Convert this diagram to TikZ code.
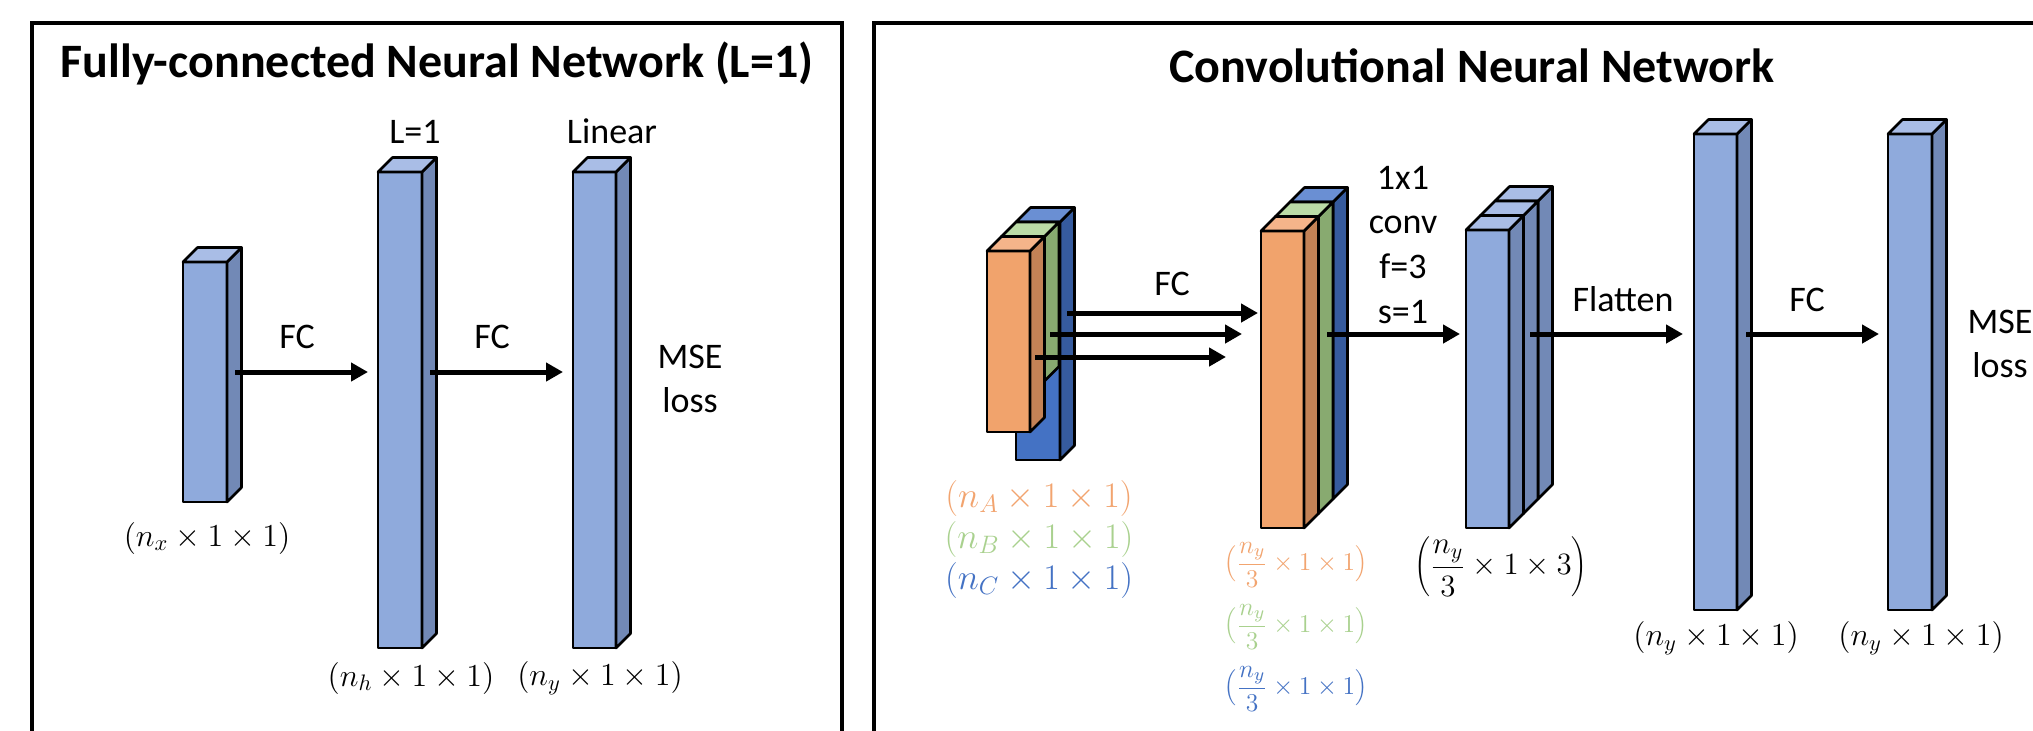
\documentclass[tikz,border=0pt]{standalone}
\usepackage{fix-cm}
\usepackage[no-math]{fontspec}
\setmainfont{Carlito}
\usetikzlibrary{arrows.meta}
\definecolor{lbF}{HTML}{8FAADC}
\definecolor{lbS}{HTML}{7289B6}
\definecolor{lbT}{HTML}{A9BDE6}
\definecolor{orF}{HTML}{F1A36C}
\definecolor{orS}{HTML}{C38256}
\definecolor{orT}{HTML}{F5B48A}
\definecolor{grF}{HTML}{A9D18E}
\definecolor{grS}{HTML}{88AA70}
\definecolor{grT}{HTML}{BBDBA6}
\definecolor{dbF}{HTML}{4472C4}
\definecolor{dbS}{HTML}{365B9E}
\definecolor{dbT}{HTML}{6A8FD3}
\definecolor{orTxt}{HTML}{F2A46F}
\definecolor{grTxt}{HTML}{A9D18E}
\definecolor{dbTxt}{HTML}{4472C4}
\def\dd{14.5}
\newcommand\fraclbl{$\displaystyle\Bigl(\frac{n_y}{3}\times1\times1\Bigr)$}
\tikzset{
  panel/.style={draw=black, line width=1.7pt},
  face/.style={draw=black, line width=1.3pt, line join=round},
  frontface/.style={face, rectangle, inner sep=0pt, outer sep=0pt, anchor=north west},
  arr/.style={line width=2.5pt, -{Triangle[length=8.5pt,width=9pt]}},
  lbl/.style={font=\fontsize{18}{22}\selectfont, anchor=base, inner sep=0pt},
  ttl/.style={font=\fontsize{24}{28}\selectfont\bfseries, anchor=base, inner sep=0pt},
  mlbl/.style={font=\fontsize{16}{19}\selectfont, inner sep=0pt},
  clbl/.style={font=\fontsize{18}{21}\selectfont, inner sep=0pt},
  flbl/.style={font=\fontsize{12.8}{15}\selectfont, inner sep=0pt},
}
% name, x0, top, x1, bottom, front, side, top colours
\newcommand\cub[8]{%
  \node[frontface, fill=#6, minimum width={(#4-#2)*0.5pt}, minimum height={(#5-#3)*0.5pt}] (#1) at (#2,#3) {};
  \filldraw[face, fill=#7] (#4,#3) -- (#4+\dd,#3-\dd) -- (#4+\dd,#5-\dd) -- (#4,#5) -- cycle;
  \filldraw[face, fill=#8] (#2,#3) -- (#2+\dd,#3-\dd) -- (#4+\dd,#3-\dd) -- (#4,#3) -- cycle;
}
\begin{document}
\begin{tikzpicture}[x=0.5pt, y=-0.5pt]
\useasboundingbox (0,0) rectangle (2033,730);
\clip (0,0) rectangle (2033,730);
\fill[white] (0,0) rectangle (2033,730);
% panels
\draw[panel] (32,23) rectangle (842,780);
\draw[panel] (874,23) rectangle (2080,780);
\node[ttl] (t1) at (437,77) {Fully-connected Neural Network (L=1)};
\node[ttl] (t2) at (1472,82) {Convolutional Neural Network};

% ---- left panel ----
\cub{b1}{183}{262}{227}{502}{lbF}{lbS}{lbT}
\cub{b2}{378}{172}{422}{648}{lbF}{lbS}{lbT}
\cub{b3}{573}{172}{616}{648}{lbF}{lbS}{lbT}
\coordinate (a1s) at (235,372); \coordinate (a1e) at (368,372);
\coordinate (a2s) at (430,372); \coordinate (a2e) at (563,372);
\draw[arr] (a1s) -- (a1e);
\draw[arr] (a2s) -- (a2e);
\node[lbl] (l1) at (415,143) {L=1};
\node[lbl] (lin) at (612,143) {Linear};
\node[lbl] (fc1) at (297,348) {FC};
\node[lbl] (fc2) at (492,348) {FC};
\node[lbl] (mse1) at (690,368) {MSE};
\node[lbl] (loss1) at (690,412) {loss};
\node[mlbl] (dx) at (207,538) {$(n_x\times1\times1)$};
\node[mlbl] (dh) at (411,678) {$(n_h\times1\times1)$};
\node[mlbl] (dy) at (600,678) {$(n_y\times1\times1)$};

% ---- right panel ----
% input stack
\cub{s1c}{1016}{222}{1060}{460}{dbF}{dbS}{dbT}
\cub{s1b}{1001.5}{236.5}{1044.5}{381}{grF}{grS}{grT}
\cub{s1a}{987}{251}{1030}{432}{orF}{orS}{orT}
% second stack
\cub{s2c}{1290}{202}{1333}{499}{dbF}{dbS}{dbT}
\cub{s2b}{1275.5}{216.5}{1318.5}{513.5}{grF}{grS}{grT}
\cub{s2a}{1261}{231}{1304}{528}{orF}{orS}{orT}
% conv output stack
\cub{s3c}{1495}{201}{1538}{499}{lbF}{lbS}{lbT}
\cub{s3b}{1480.5}{215.5}{1523.5}{513.5}{lbF}{lbS}{lbT}
\cub{s3a}{1466}{230}{1509}{528}{lbF}{lbS}{lbT}
% flatten and output
\cub{bf}{1694}{134}{1737}{610}{lbF}{lbS}{lbT}
\cub{bo}{1888}{134}{1932}{610}{lbF}{lbS}{lbT}

\coordinate (f1s) at (1067,313); \coordinate (f1e) at (1258,313);
\coordinate (f2s) at (1050,334); \coordinate (f2e) at (1242,334);
\coordinate (f3s) at (1035,357); \coordinate (f3e) at (1226,357);
\coordinate (cvs) at (1327,334); \coordinate (cve) at (1460,334);
\coordinate (fls) at (1530,334); \coordinate (fle) at (1683,334);
\coordinate (fcs) at (1746,334); \coordinate (fce) at (1879,334);
\draw[arr] (f1s) -- (f1e);
\draw[arr] (f2s) -- (f2e);
\draw[arr] (f3s) -- (f3e);
\draw[arr] (cvs) -- (cve);
\draw[arr] (fls) -- (fle);
\draw[arr] (fcs) -- (fce);

\node[lbl] (fc3) at (1172,295) {FC};
\node[lbl] (k1) at (1403,189) {1x1};
\node[lbl] (k2) at (1403,233) {conv};
\node[lbl] (k3) at (1403,278) {f=3};
\node[lbl] (k4) at (1403,323) {s=1};
\node[lbl] (flt) at (1623,311) {Flatten};
\node[lbl] (fc4) at (1807,311) {FC};
\node[lbl] (mse2) at (2000,333) {MSE};
\node[lbl] (loss2) at (2000,377) {loss};

\node[clbl, text=orTxt] (dA) at (1039,498) {$(n_A\times1\times1)$};
\node[clbl, text=grTxt] (dB) at (1039,539) {$(n_B\times1\times1)$};
\node[clbl, text=dbTxt] (dC) at (1039,580) {$(n_C\times1\times1)$};
\node[flbl, text=orTxt] (q1) at (1296,565) {\fraclbl};
\node[flbl, text=grTxt] (q2) at (1296,627) {\fraclbl};
\node[flbl, text=dbTxt] (q3) at (1296,689) {\fraclbl};
\node[font=\fontsize{15.5}{18}\selectfont, inner sep=0pt] (q4) at (1501,567) {$\displaystyle\left(\frac{n_y}{3}\times1\times3\right)$};
\node[mlbl] (dy2) at (1716,638) {$(n_y\times1\times1)$};
\node[mlbl] (dy3) at (1921,638) {$(n_y\times1\times1)$};
\end{tikzpicture}
\end{document}
